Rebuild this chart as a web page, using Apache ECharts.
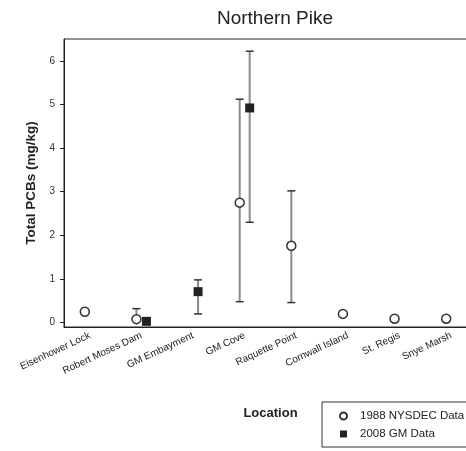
<!DOCTYPE html>
<html>
<head>
<meta charset="utf-8">
<script src="https://cdn.jsdelivr.net/npm/echarts@6/dist/echarts.min.js"></script>
<style>
  html, body { margin: 0; padding: 0; background: #fff; }
  #chart { width: 466px; height: 451px; }
</style>
</head>
<body>
<div id="chart"></div>
<script>
// sampling sites along the river
var locations = ['Eisenhower Lock', 'Robert Moses Dam', 'GM Embayment', 'GM Cove',
    'Raquette Point', 'Cornwall Island', 'St. Regis', 'Snye Marsh'];

// 1988 NYSDEC data (mean, upper, lower)
var nysdecMean = [0.25, 0.08, null, 2.75, 1.76, 0.2, 0.09, 0.09];
var nysdecHigh = [null, 0.32, null, 5.12, 3.02, null, null, null];
var nysdecLow = [null, null, null, 0.48, 0.46, null, null, null];

// 2008 GM data
var gmMean = [null, 0.03, 0.71, 4.92, null, null, null, null];
var gmHigh = [null, null, 0.98, 6.22, null, null, null, null];
var gmLow = [null, null, 0.2, 2.3, null, null, null, null];

var yTicks = [0, 1, 2, 3, 4, 5, 6];

var errData = function (mean, high, low) {
    var out = [];
    for (var i = 0; i < mean.length; i++) {
        if (mean[i] == null || (high[i] == null && low[i] == null)) continue;
        out.push([i, mean[i], high[i], low[i]]);
    }
    return out;
};

var errRender = function (dx) {
    return function (params, api) {
        var idx = api.value(0);
        var mean = api.value(1);
        var hi = api.value(2);
        var lo = api.value(3);
        var top = isNaN(hi) || hi == null ? mean : hi;
        var bot = isNaN(lo) || lo == null ? mean : lo;
        var p1 = api.coord([idx, top]);
        var p2 = api.coord([idx, bot]);
        var x = p1[0] + dx;
        var kids = [{
            type: 'line',
            shape: {x1: x, y1: p1[1], x2: x, y2: p2[1]},
            style: {stroke: '#8a8a8a', lineWidth: 2}
        }];
        if (top !== mean) {
            kids.push({type: 'line', shape: {x1: x - 4, y1: p1[1], x2: x + 4, y2: p1[1]},
                style: {stroke: '#333', lineWidth: 1.5}});
        }
        if (bot !== mean) {
            kids.push({type: 'line', shape: {x1: x - 4, y1: p2[1], x2: x + 4, y2: p2[1]},
                style: {stroke: '#333', lineWidth: 1.5}});
        }
        return {type: 'group', children: kids};
    };
};

var chart = echarts.init(document.getElementById('chart'));
chart.setOption({
    animation: false,
    textStyle: {fontFamily: 'Liberation Sans, Arial, sans-serif'},
    title: {
        text: 'Northern Pike',
        left: 270,
        top: 4,
        textAlign: 'center',
        textStyle: {fontSize: 19, fontWeight: 'normal', color: '#222'}
    },
    grid: {
        left: 64, width: 413, top: 39, height: 288,
        outerBoundsMode: 'none',
        show: true, borderColor: '#222', borderWidth: 1
    },
    legend: {
        orient: 'vertical',
        left: 322,
        top: 402,
        padding: [8, 40, 7, 17],
        itemGap: 6,
        itemWidth: 7,
        itemHeight: 7,
        borderColor: '#333',
        borderWidth: 1,
        textStyle: {fontSize: 11.5, color: '#222', padding: [0, 0, 0, 8]},
        data: [
            {name: '1988 NYSDEC Data', icon: 'circle'},
            {name: '2008 GM Data', icon: 'rect'}
        ]
    },
    xAxis: {
        type: 'category',
        data: locations,
        name: 'Location',
        nameLocation: 'middle',
        nameGap: 80,
        nameTextStyle: {fontSize: 13, fontWeight: 'bold', color: '#222'},
        axisLine: {onZero: false, lineStyle: {color: '#222'}},
        axisTick: {alignWithLabel: true, length: 4, lineStyle: {color: '#222'}},
        axisLabel: {rotate: 25, fontSize: 10, color: '#222', margin: 8, interval: 0},
        splitLine: {show: false}
    },
    yAxis: {
        type: 'value',
        min: -0.1,
        max: 6.5,
        name: 'Total PCBs (mg/kg)',
        nameLocation: 'middle',
        nameGap: 26,
        nameTextStyle: {fontSize: 13.5, fontWeight: 'bold', color: '#222'},
        axisLine: {show: true, lineStyle: {color: '#222'}},
        axisTick: {show: true, length: 4, customValues: yTicks, lineStyle: {color: '#222'}},
        axisLabel: {fontSize: 10, color: '#333', customValues: yTicks, margin: 9},
        splitLine: {show: false}
    },
    series: [
        {
            name: 'nysdecErr',
            type: 'custom',
            renderItem: errRender(-5),
            data: errData(nysdecMean, nysdecHigh, nysdecLow),
            encode: {x: 0, y: 1},
            z: 1,
            silent: true
        },
        {
            name: 'gmErr',
            type: 'custom',
            renderItem: errRender(5),
            data: errData(gmMean, gmHigh, gmLow),
            encode: {x: 0, y: 1},
            z: 1,
            silent: true
        },
        {
            name: '1988 NYSDEC Data',
            type: 'scatter',
            symbol: 'circle',
            symbolSize: 9,
            symbolOffset: [-5, 0],
            itemStyle: {color: '#fff', borderColor: '#333', borderWidth: 1.5, opacity: 1},
            data: nysdecMean,
            z: 3
        },
        {
            name: '2008 GM Data',
            type: 'scatter',
            symbol: 'rect',
            symbolSize: 9,
            symbolOffset: [5, 0],
            itemStyle: {color: '#222', opacity: 1},
            data: gmMean,
            z: 3
        }
    ]
});
</script>
</body>
</html>
